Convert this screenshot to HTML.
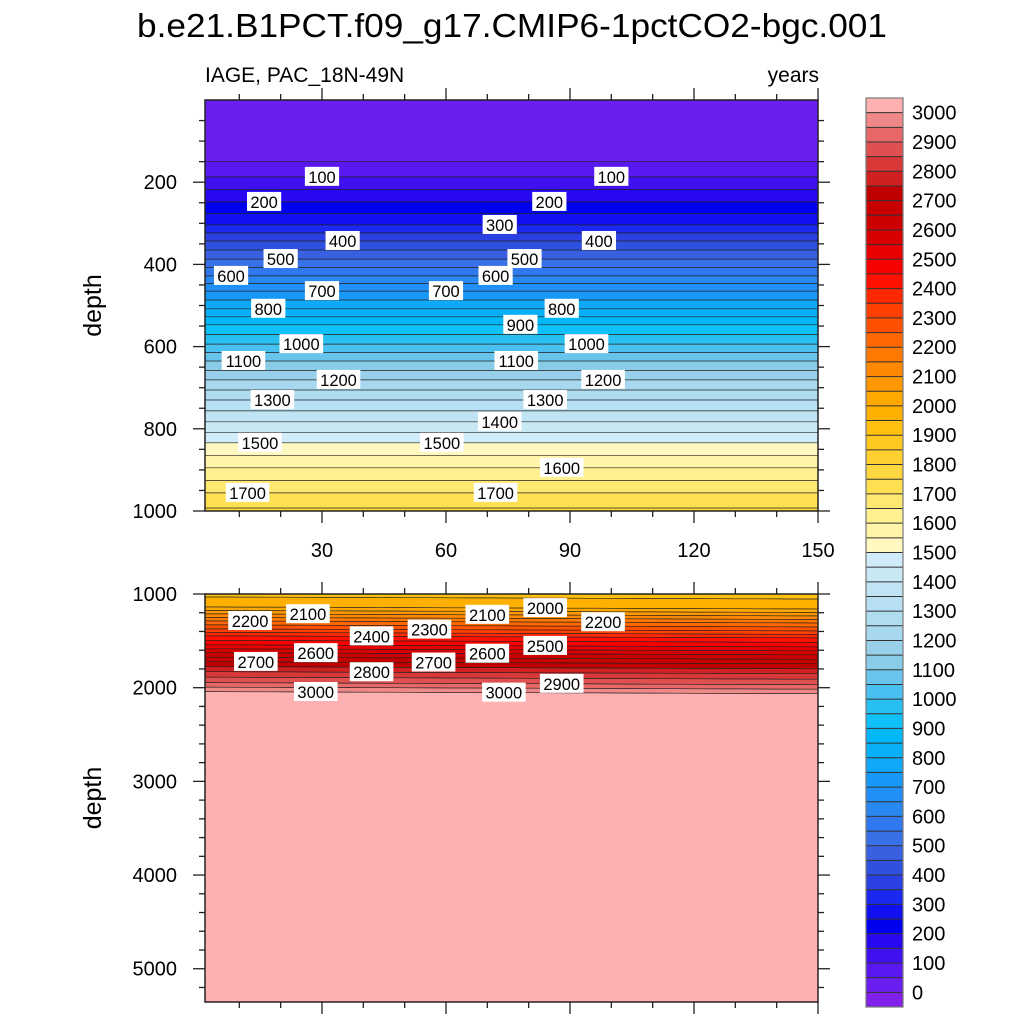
<!DOCTYPE html>
<html><head><meta charset="utf-8">
<style>
body{margin:0;background:#fff;width:1024px;height:1024px;overflow:hidden}
svg text{font-family:"Liberation Sans",sans-serif;fill:#000}
</style></head>
<body>
<svg id="chart" width="1024" height="1024" viewBox="0 0 1024 1024" xmlns="http://www.w3.org/2000/svg">
<text x="512" y="37" font-size="33" text-anchor="middle" textLength="750" lengthAdjust="spacingAndGlyphs">b.e21.B1PCT.f09_g17.CMIP6-1pctCO2-bgc.001</text>
<text x="205" y="82" font-size="21">IAGE, PAC_18N-49N</text>
<text x="819" y="82" font-size="21" text-anchor="end">years</text>
<g id="top"></g>
<g id="bot"></g>
<g id="cbar"></g>
</svg>
<script>
// ---- data ----
const topDepths = [0,150,187,248,304,343,387,428,465,508,547,594,635,681,730,783,834,895,956,1000];
const topAges   = [20,50,100,200,300,400,500,600,700,800,900,1000,1100,1200,1300,1400,1500,1600,1700,1760];
const botDepths = [1000,1149,1223,1298,1383,1457,1553,1638,1734,1840,1957,2053,2300,5400];
const botAges   = [1930,2000,2100,2200,2300,2400,2500,2600,2700,2800,2900,3000,3060,3100];
const topShift = 0;     // m per year
const botShift = 0.15;  // m per year
const topLabels = [[100,30],[100,100],[200,16],[200,85],[300,73],[400,35],[400,97],[500,20],[500,79],[600,8],[600,72],[700,30],[700,60],[800,17],[800,88],[900,78],[1000,25],[1000,94],[1100,11],[1100,77],[1200,34],[1200,98],[1300,18],[1300,84],[1400,73],[1500,15],[1500,59],[1600,88],[1700,12],[1700,72]];
const botLabels = [[2200,12.6],[2100,26.6],[2400,42],[2300,56],[2100,70],[2000,84],[2200,98],[2700,14],[2600,28.5],[2800,42],[2700,57],[2600,70],[2500,84],[3000,28.5],[3000,74],[2900,88]];
const levels = []; for(let v=0; v<=3000; v+=50) levels.push(v);
const cbarLabels = []; for(let v=0; v<=3000; v+=100) cbarLabels.push(v);
const colors = ["#8020e8","#6a1ef0","#5a18f0","#4010f0","#2808f0","#0000f0","#1010f0","#1a28f0","#2a40e0","#3050e0","#3860e0","#3870e8","#3078f0","#2888f0","#2090f8","#1898f8","#10a8f8","#08b0f8","#00b8f8","#10c0f8","#28c0f0","#48c0f0","#68c4ec","#88cce8","#98d0ec","#a8d8f0","#b0dcf0","#b8e0f4","#c0e4f4","#c8e8f4","#d0ecf8",
"#fff8c0","#fff4a8","#fff090","#ffe870","#ffe050","#ffd840","#ffd030","#ffc820","#ffc010","#ffb000","#ffa800","#ff9800","#ff8800","#ff7800","#ff6800","#ff5000","#ff4000","#ff2800","#ff1000","#f80000","#e80000","#d80000","#cc0000","#c80000","#c00000","#d02020","#d83838","#e05050","#e86868","#f08888","#ffb0b0"];
// ---- helpers ----
const NS="http://www.w3.org/2000/svg";
function mk(tag,attrs,parent){const e=document.createElementNS(NS,tag);for(const k in attrs)e.setAttribute(k,attrs[k]);parent.appendChild(e);return e;}
const X0=205,X1=818, T0=1.7, T1=150;
const xs = t => X0+(t-T0)/(T1-T0)*(X1-X0);
function interp(xa,ya,x){if(x<=xa[0])return ya[0];for(let i=1;i<xa.length;i++){if(x<=xa[i]){const f=(x-xa[i-1])/(xa[i]-xa[i-1]);return ya[i-1]+f*(ya[i]-ya[i-1]);}}return ya[ya.length-1];}
function colorFor(v){let k=0;while(k<levels.length&&v>levels[k])k++;return colors[k];}

function panel(g,cfg){
  const {D0,D1,Y0,Y1,depths,ages,shift,labels}=cfg;
  const ys=d=>Y0+(d-D0)/(D1-D0)*(Y1-Y0);
  const cdepth=(L,t)=>interp(ages,depths,L)+shift*(t-75);
  const inRange=L=>L>ages[0]&&L<ages[ages.length-1];
  const clip='clip'+Y0;
  const cp=mk('clipPath',{id:clip},g); mk('rect',{x:X0,y:Y0,width:X1-X0,height:Y1-Y0},cp);
  const fg=mk('g',{'clip-path':'url(#'+clip+')'},g);
  const bg=mk('rect',{x:X0,y:Y0,width:X1-X0,height:Y1-Y0,fill:colorFor(ages[0])},fg);
  
  
  const tsteps=[];for(let t=T0;t<=T1+0.01;t+=(T1-T0)/30)tsteps.push(t);
  const active=levels.filter(inRange);
  active.forEach((L,i)=>{
    const line=tsteps.map(t=>xs(t).toFixed(1)+','+ys(cdepth(L,t)).toFixed(1));
    const poly=line.join(' ')+' '+X1+','+(Y1+50)+' '+X0+','+(Y1+50);
    const p=mk('polygon',{points:poly,fill:colorFor(L+1)},fg);
    
    
  });
  active.forEach(L=>{
    const line=tsteps.map(t=>xs(t).toFixed(1)+','+ys(cdepth(L,t)).toFixed(1));
    const pl=mk('polyline',{points:line.join(' '),fill:'none',stroke:'#222','stroke-width':0.7},fg);
    
    
  });
  labels.forEach(([L,t])=>{
    const x=xs(t),y=ys(cdepth(L,t));const s=String(L);const w=s.length*9.4+6;
    const lg=mk('g',{},g);
    
    
    mk('rect',{x:x-w/2,y:y-10,width:w,height:19,fill:'#fff'},lg);
    const tx=mk('text',{x:x,y:y+6,'font-size':16.5,'text-anchor':'middle'},lg);tx.textContent=s;
  });
  const frame=mk('rect',{x:X0,y:Y0,width:X1-X0,height:Y1-Y0,fill:'none',stroke:'#222','stroke-width':1.5},g);
  
  
  for(let t=10;t<=150;t+=10){const x=xs(t),maj=t%30===0,len=maj?12:6;
    mk('line',{x1:x,y1:Y0,x2:x,y2:Y0-len,stroke:'#222','stroke-width':1.3},g);
    mk('line',{x1:x,y1:Y1,x2:x,y2:Y1+len,stroke:'#222','stroke-width':1.3},g);
    if(maj&&cfg.xlabels){const tl=mk('text',{x:x,y:Y1+46,'font-size':20,'text-anchor':'middle'},g);tl.textContent=t;
      
      }
  }
  for(let d=cfg.minStart;d<=D1;d+=cfg.minor){const y=ys(d);if(y<Y0-0.5)continue;const maj=d%cfg.major===0,len=maj?12:6;
    mk('line',{x1:X0,y1:y,x2:X0-len,y2:y,stroke:'#222','stroke-width':1.3},g);
    mk('line',{x1:X1,y1:y,x2:X1+len,y2:y,stroke:'#222','stroke-width':1.3},g);
    if(maj){const tl=mk('text',{x:X0-28,y:y+7,'font-size':20,'text-anchor':'end'},g);tl.textContent=d;
      
      }
  }
  const yt=mk('text',{x:0,y:0,'font-size':25,'text-anchor':'middle',transform:`translate(101,${(Y0+Y1)/2}) rotate(-90)`},g);
  yt.textContent='depth';
  
  
}
panel(document.getElementById('top'),{D0:0,D1:1000,Y0:100,Y1:511,depths:topDepths,ages:topAges,shift:topShift,labels:topLabels,major:200,minor:50,minStart:50,xlabels:true});
panel(document.getElementById('bot'),{D0:1000,D1:5355,Y0:594,Y1:1002,depths:botDepths,ages:botAges,shift:botShift,labels:botLabels,major:1000,minor:200,minStart:1000,xlabels:false});

const cb=document.getElementById('cbar');
const CX=866,CW=37,CY0=98,CY1=1007,n=colors.length,bh=(CY1-CY0)/n;
colors.forEach((c,k)=>{const y=CY1-(k+1)*bh;
  const r=mk('rect',{x:CX,y:y,width:CW,height:bh+0.3,fill:c},cb);
  
  
  if(k>0)mk('line',{x1:CX,y1:CY1-k*bh,x2:CX+CW,y2:CY1-k*bh,stroke:'#333','stroke-width':1},cb);
});
mk('rect',{x:CX,y:CY0,width:CW,height:CY1-CY0,fill:'none',stroke:'#777','stroke-width':1.2},cb);
cbarLabels.forEach(v=>{const k=v/50+1;const y=CY1-k*bh;
  const t=mk('text',{x:912,y:y+7,'font-size':20},cb);t.textContent=v;
  
  
});
</script>
</body></html>
